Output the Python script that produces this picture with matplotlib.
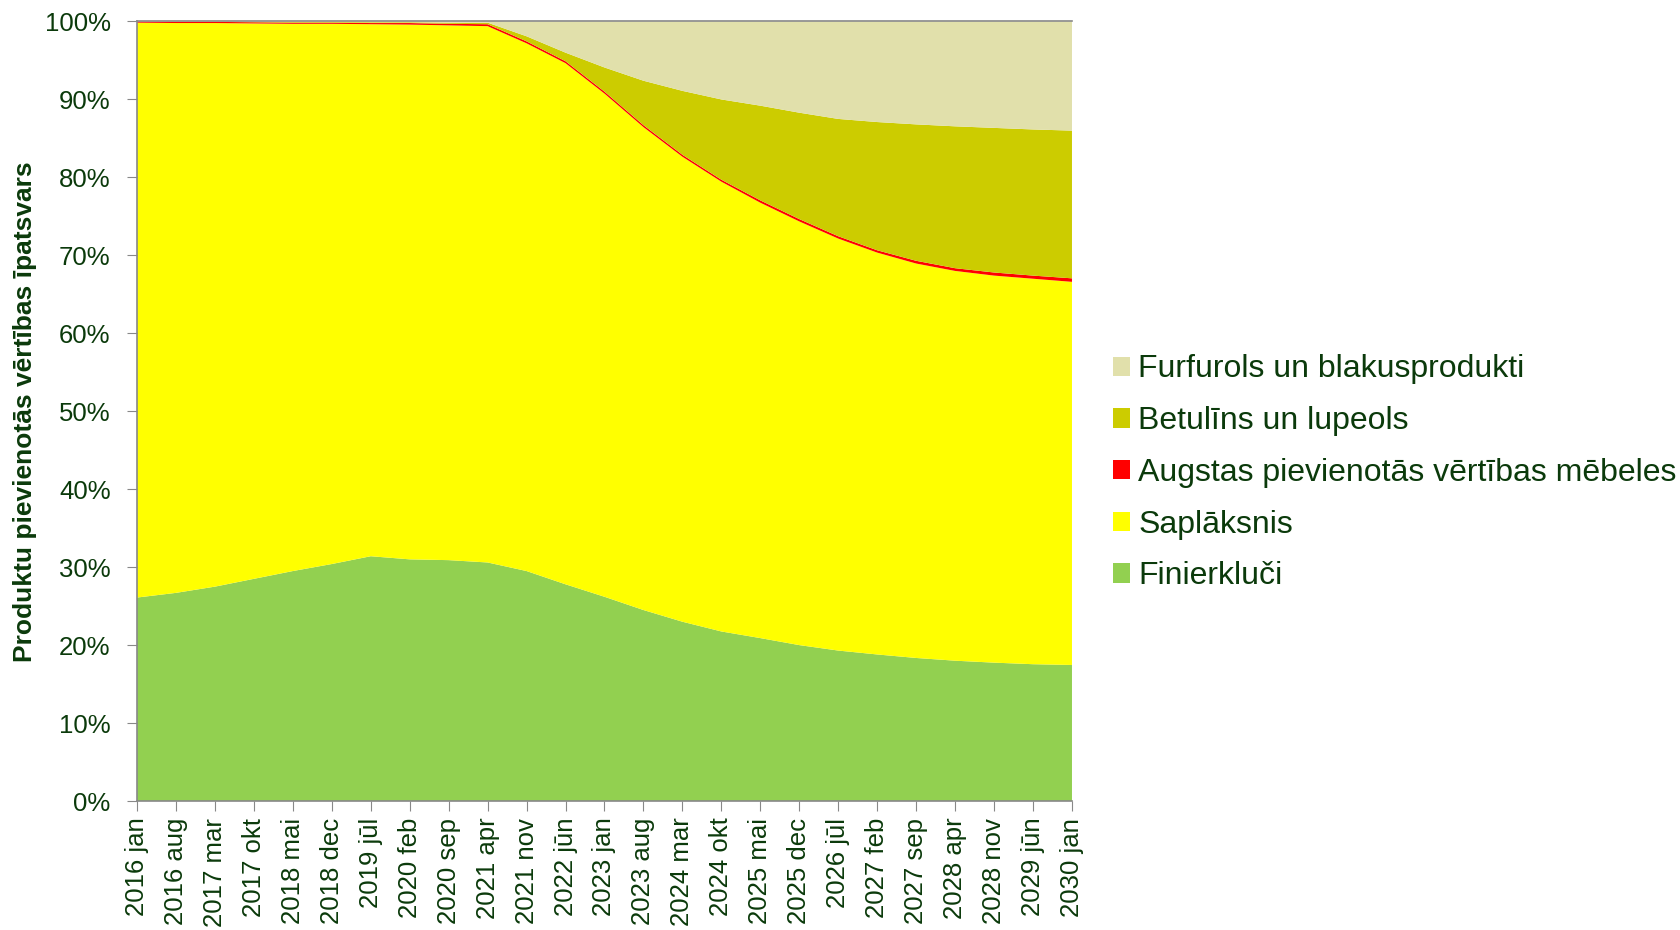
import matplotlib
matplotlib.use("Agg")
import matplotlib.pyplot as plt
from matplotlib.patches import Patch

plt.rcParams['font.family'] = ['Liberation Sans', 'DejaVu Sans']

# tick months (every 7 months from 2016 jan)
labels = ["2016 jan", "2016 aug", "2017 mar", "2017 okt", "2018 mai", "2018 dec",
          "2019 jūl", "2020 feb", "2020 sep", "2021 apr", "2021 nov", "2022 jūn",
          "2023 jan", "2023 aug", "2024 mar", "2024 okt", "2025 mai", "2025 dec",
          "2026 jūl", "2027 feb", "2027 sep", "2028 apr", "2028 nov", "2029 jūn",
          "2030 jan"]
months = [0, 7, 14, 21, 28, 35, 42, 49, 56, 63, 70, 77, 84, 91, 98, 105, 112,
          119, 126, 133, 140, 147, 154, 161, 168]

# shares in %
finierkluci = [26.1, 26.7, 27.5, 28.5, 29.5, 30.4, 31.4, 31.0, 30.9, 30.6, 29.5,
               27.8, 26.2, 24.5, 23.0, 21.75, 20.9, 20.0, 19.3, 18.8, 18.35, 18.0,
               17.75, 17.55, 17.45]
saplaksnis = [73.75, 73.1, 72.3, 71.25, 70.2, 69.3, 68.25, 68.6, 68.6, 68.8, 67.7,
              66.85, 64.55, 61.95, 59.65, 57.7, 55.85, 54.35, 52.85, 51.55, 50.6,
              50.0, 49.65, 49.45, 49.15]
mebeles = [0.15, 0.15, 0.15, 0.15, 0.15, 0.15, 0.15, 0.2, 0.2, 0.25, 0.25, 0.25,
           0.25, 0.25, 0.25, 0.25, 0.3, 0.3, 0.3, 0.3, 0.35, 0.35, 0.4, 0.4, 0.45]
betulins = [0.0, 0.03, 0.03, 0.05, 0.08, 0.08, 0.1, 0.1, 0.15, 0.2, 0.65, 1.1,
            3.1, 5.7, 8.2, 10.3, 12.15, 13.65, 15.05, 16.45, 17.5, 18.2, 18.55,
            18.75, 18.95]
furfurols = [0.0, 0.02, 0.02, 0.05, 0.07, 0.07, 0.1, 0.1, 0.15, 0.2, 1.9, 4.0,
             5.9, 7.6, 8.9, 10.0, 10.8, 11.7, 12.5, 12.9, 13.2, 13.45, 13.65,
             13.85, 14.0]

names = ["Finierkluči", "Saplāksnis", "Augstas pievienotās vērtības mēbeles",
         "Betulīns un lupeols", "Furfurols un blakusprodukti"]
colors = ["#92D050", "#FFFF00", "#FF0000", "#CCCC00", "#E1E0AB"]
txt = "#0B3A0B"

fig = plt.figure(figsize=(16.81, 9.30), dpi=100)
ax = fig.add_axes([0.0815, 0.1387, 0.5562, 0.8382])

ax.stackplot(months, finierkluci, saplaksnis, mebeles, betulins, furfurols,
             colors=colors, linewidth=0)

ax.set_xlim(0, 168)
ax.set_ylim(0, 100)
ax.set_xticks(months)
ax.set_xticklabels(labels, rotation=90, fontsize=18.5, color=txt)
ax.set_yticks(range(0, 101, 10))
ax.set_yticklabels(["%d%%" % v for v in range(0, 101, 10)], fontsize=18.5, color=txt)
ax.tick_params(axis='y', length=7, color="#888888", pad=12)
ax.tick_params(axis='x', length=7, color="#888888", pad=5)

for s in ["left", "bottom", "top"]:
    ax.spines[s].set_color("#888888")
    ax.spines[s].set_linewidth(1.2)
ax.spines["right"].set_visible(False)

ax.set_ylabel("Produktu pievienotās vērtības īpatsvars", fontsize=19,
              fontweight="bold", color=txt)
ax.yaxis.set_label_coords(-0.107, 0.5)

handles = [Patch(facecolor=c, edgecolor='none') for c in colors]
leg = fig.legend(handles[::-1], names[::-1], loc="center left",
                 bbox_to_anchor=(0.662, 0.4915), frameon=False, fontsize=23,
                 handlelength=0.55, handleheight=0.55, handletextpad=0.25,
                 labelspacing=0.68, borderpad=0, borderaxespad=0)
for t in leg.get_texts():
    t.set_color(txt)

fig.savefig("out.png", dpi=100)
